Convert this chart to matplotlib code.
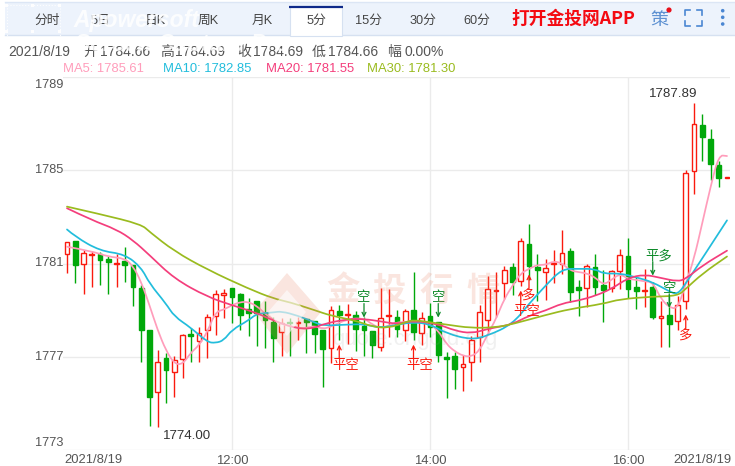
import matplotlib
matplotlib.use("Agg")
import matplotlib.pyplot as plt
from matplotlib.patches import Rectangle, Polygon, Circle, PathPatch
from matplotlib.path import Path

FONT = ['Liberation Sans', 'Noto Sans CJK SC', 'DejaVu Sans']
CJK = ['Noto Sans CJK SC', 'DejaVu Sans']
plt.rcParams['font.family'] = FONT

# ---- candles (open, close, high, low) ----
opens = [1781.39,1781.96,1781.00,1781.37,1781.40,1781.20,1780.97,1781.10,1780.92,1779.97,1778.16,1775.50,1776.93,1776.34,1776.91,1777.98,1777.67,1778.15,1778.75,1779.66,
         1779.93,1779.71,1779.05,1779.41,1778.86,1778.50,1778.07,1778.49,1778.46,1778.63,1778.52,1778.15,1777.37,1778.98,1778.77,1778.80,1778.33,1778.12,1777.43,1778.75,
         1778.72,1778.13,1779.02,1778.00,1778.76,1778.48,1776.97,1777.04,1776.54,1776.76,1777.86,1778.58,1779.84,1780.17,1780.87,1780.23,1781.85,1780.84,1780.64,1781.00,
         1780.99,1781.52,1780.01,1779.94,1780.87,1780.08,1779.97,1780.67,1781.34,1780.01,1779.84,1780.01,1778.68,1778.81,1778.55,1779.38,1784.96,1786.96,1786.33,1785.21,1784.66]
closes = [1781.93,1780.94,1781.43,1781.40,1781.17,1781.07,1781.00,1780.94,1780.00,1778.16,1775.27,1776.77,1776.43,1776.86,1777.93,1777.90,1778.00,1778.70,1779.70,1779.72,
          1779.58,1778.78,1778.86,1778.88,1778.58,1777.79,1778.45,1778.46,1778.51,1778.48,1777.99,1777.32,1779.00,1778.78,1778.82,1778.18,1778.13,1777.52,1778.66,1778.80,
          1778.18,1778.96,1778.05,1778.66,1778.26,1777.09,1776.90,1776.47,1776.68,1777.72,1778.91,1779.91,1779.87,1780.70,1780.21,1781.96,1780.91,1780.73,1780.80,1781.03,
          1781.46,1779.78,1779.88,1780.90,1779.98,1779.88,1780.66,1781.37,1779.90,1779.84,1779.87,1778.69,1778.76,1778.42,1779.22,1784.90,1787.00,1786.41,1785.25,1784.67,1784.69]
highs = [1781.93,1781.96,1781.60,1781.53,1781.50,1781.33,1781.40,1781.72,1780.92,1780.08,1778.16,1777.27,1777.16,1777.04,1777.98,1778.25,1778.29,1778.84,1779.87,1779.92,
         1779.93,1779.75,1779.54,1779.41,1779.37,1778.70,1778.66,1778.66,1778.72,1778.63,1778.52,1778.15,1779.18,1779.24,1779.27,1778.98,1778.69,1778.12,1779.95,1779.91,
         1779.00,1779.05,1780.62,1778.92,1779.32,1778.48,1777.19,1777.22,1777.07,1777.90,1779.22,1780.46,1780.63,1780.91,1781.03,1782.10,1782.68,1781.42,1781.20,1781.56,
         1782.42,1781.67,1780.30,1780.99,1781.42,1780.70,1780.70,1781.63,1782.10,1780.41,1780.77,1780.20,1779.41,1779.62,1779.62,1785.00,1787.89,1787.41,1786.75,1785.39,1784.72]
lows = [1780.60,1780.17,1779.68,1779.98,1780.07,1779.68,1779.98,1780.20,1779.16,1776.77,1774.02,1774.00,1775.03,1775.27,1776.10,1776.77,1776.77,1776.96,1777.95,1778.65,
        1778.46,1778.16,1777.88,1777.44,1777.36,1776.77,1777.04,1777.04,1777.72,1777.14,1777.14,1775.72,1776.74,1777.72,1777.55,1777.23,1777.04,1776.94,1777.26,1777.83,
        1777.83,1777.69,1777.73,1777.52,1777.83,1776.78,1775.25,1775.61,1775.54,1775.94,1776.76,1778.05,1778.72,1779.48,1779.67,1780.05,1780.30,1779.40,1779.45,1780.15,
        1780.55,1779.34,1778.73,1779.15,1779.67,1778.48,1779.77,1779.91,1779.52,1779.05,1779.15,1778.62,1777.43,1777.43,1778.15,1779.05,1784.00,1785.39,1784.60,1784.28,1784.66]

# ---- moving averages, read at selected candle indices ----
ma5_idx = [0,3,5,7,8,9,10,11,12,13,14,15,16,17,18,19,20,21,22,23,24,25,26,28,29,30,31,32,34,36,37,38,39,40,41,42,44,45,46,47,48,49,50,51,52,53,54,55,56,57,58,59,60,61,62,63,64,65,66,67,68,69,70,71,72,73,74,75,76,77,78,79,80]
ma5_val = [1781.72,1781.53,1781.29,1781.22,1780.89,1780.21,1779.21,1778.13,1777.27,1776.70,1776.67,1777.17,1777.49,1778.06,1778.92,1779.02,1779.21,1779.35,1779.35,1779.18,1778.85,1778.59,1778.40,1778.23,1778.23,1778.33,1778.19,1778.29,1778.62,1778.66,1778.38,1778.23,1778.33,1778.48,1778.48,1778.55,1778.40,1778.12,1777.54,1777.23,1777.04,1777.00,1777.26,1777.97,1778.62,1779.48,1780.05,1780.58,1780.77,1780.94,1780.94,1781.10,1781.01,1780.70,1780.63,1780.58,1780.41,1780.08,1780.30,1780.56,1780.34,1780.30,1780.23,1780.20,1779.48,1779.12,1779.05,1780.13,1781.20,1782.73,1784.28,1785.65,1785.61]
ma10_idx = [0,1,4,7,9,10,12,13,15,17,18,19,20,22,23,25,26,28,30,31,34,36,38,40,42,44,46,49,51,54,56,58,60,62,64,65,67,69,71,73,74,75,80]
ma10_val = [1782.46,1782.15,1781.54,1781.40,1780.83,1780.14,1779.28,1778.73,1778.25,1777.63,1777.59,1777.70,1778.16,1778.56,1778.85,1778.90,1778.95,1778.76,1778.48,1778.33,1778.38,1778.40,1778.23,1778.38,1778.48,1778.40,1778.00,1777.73,1777.90,1778.40,1779.27,1780.05,1780.77,1780.77,1780.77,1780.56,1780.58,1780.41,1780.20,1779.80,1779.67,1780.13,1782.85]
ma20_idx = [0,3,6,8,10,13,17,20,23,25,28,30,31,34,36,38,40,42,45,47,49,51,52,54,56,58,60,62,64,66,68,70,72,74,75,77,80]
ma20_val = [1783.37,1782.86,1782.46,1782.00,1781.36,1780.35,1779.57,1779.21,1778.88,1778.55,1778.19,1778.23,1778.40,1778.62,1778.62,1778.52,1778.40,1778.55,1778.40,1778.12,1778.00,1778.19,1778.26,1778.40,1778.76,1778.98,1779.29,1779.41,1779.61,1779.91,1780.38,1780.53,1780.38,1780.23,1780.34,1780.91,1781.55]
ma30_idx = [0,4,9,10,13,17,22,25,27,30,32,35,37,39,41,42,44,46,49,52,54,58,61,65,67,71,74,75,77,80]
ma30_val = [1783.44,1783.12,1782.68,1782.36,1781.53,1780.74,1779.92,1779.50,1779.34,1779.00,1778.76,1778.55,1778.29,1778.23,1778.48,1778.58,1778.48,1778.38,1778.23,1778.26,1778.40,1778.79,1779.05,1779.27,1779.47,1779.58,1779.61,1779.91,1780.56,1781.30]

# ---- trade signals ----
sig_idx = [33,42,55,56,75,36,45,71,73]
sig_price = [1777.52,1777.52,1779.84,1780.53,1778.81,1778.68,1778.68,1780.48,1779.10]
sig_text = ['平空','平空','平空','多','多','空','空','平多','空']
sig_long = [True,True,True,True,True,False,False,False,False]

tabs = ['分时','5日','日K','周K','月K','5分','15分','30分','60分']
info_items = ['2021/8/19','开','1784.66','高','1784.69','收','1784.69','低','1784.66','幅','0.00%']
ma_labels = ['MA5: 1785.61','MA10: 1782.85','MA20: 1781.55','MA30: 1781.30']
y_ticks = [1773,1777,1781,1785,1789]
x_tick_idx = [20,44,68]
x_tick_labels = ['12:00','14:00','16:00']
date_labels = ['2021/8/19','2021/8/19']

C_RED, C_GREEN = '#FA1A0E', '#00A80A'
C_MA = ['#FF9DBB', '#22BDDC', '#F43E7C', '#9ABB1F']
C_TXT = '#555555'
PX = 0.72  # points per pixel

fig = plt.figure(figsize=(7.35, 4.66), dpi=100, facecolor='white')
W, H = 735, 466
L, R, T, B = 63, 730, 77, 450
ax = fig.add_axes([L/W, 1-B/H, (R-L)/W, (B-T)/H], zorder=2)
ax.patch.set_alpha(0)
ax.set_xlim((L-67)/8.25, (R-67)/8.25)
ax.set_ylim(1773, 1789)
for s in ax.spines.values():
    s.set_visible(False)
ax.set_axisbelow(True)
ax.grid(True, color='#EBEBEB', lw=1.0)
ax.set_yticks(y_ticks)
ax.set_xticks(x_tick_idx)
ax.set_xticklabels(x_tick_labels, fontsize=9.4, color=C_TXT)
ax.set_yticklabels([])
ax.tick_params(axis='both', length=0, labelcolor=C_TXT)
ax.tick_params(axis='x', pad=3.5)
ytrans = ax.get_yaxis_transform()
for v in y_ticks:
    off = -8 if v == 1789 else 7 if v == 1773 else 0
    ax.annotate(str(v), (0, v), xycoords=ytrans, xytext=(0, off*PX), textcoords='offset points',
                ha='right', va='center', fontsize=9.2, color=C_TXT, annotation_clip=False)

# candles
for i, (o, c, h, l) in enumerate(zip(opens, closes, highs, lows)):
    up = c >= o
    col = C_RED if up else C_GREEN
    ax.vlines(i, l, h, color=col, lw=1.0, zorder=3)
    ax.bar(i, abs(c-o), bottom=min(o, c), width=0.6,
           facecolor='white' if up else col, edgecolor=col, lw=1.0, zorder=4)

# moving averages, drawn as smooth curves through their knots
for (ix, vals), col in zip([(ma5_idx, ma5_val), (ma10_idx, ma10_val), (ma20_idx, ma20_val), (ma30_idx, ma30_val)], C_MA):
    verts = [(ix[0], vals[0])]
    codes = [Path.MOVETO]
    for k in range(1, len(ix)-1):
        verts += [(ix[k], vals[k]), ((ix[k]+ix[k+1])/2, (vals[k]+vals[k+1])/2)]
        codes += [Path.CURVE3, Path.CURVE3]
    verts.append((ix[-1], vals[-1]))
    codes.append(Path.LINETO)
    ax.add_patch(PathPatch(Path(verts, codes), fc='none', ec=col, lw=1.25, zorder=5, capstyle='round'))

# extreme labels
imax = highs.index(max(highs))
imin = lows.index(min(lows))
ax.annotate(f'{highs[imax]:.2f}', (imax, highs[imax]), xytext=(-21*PX, 9*PX), textcoords='offset points',
            ha='center', va='center', fontsize=9.6, color='#333333', zorder=6)
ax.annotate(f'{lows[imin]:.2f}', (imin, lows[imin]), xytext=(29*PX, -9*PX), textcoords='offset points',
            ha='center', va='center', fontsize=9.6, color='#333333', zorder=6)

# signals
for i, p, t, is_long in zip(sig_idx, sig_price, sig_text, sig_long):
    col = C_RED if is_long else '#0E8A2A'
    sgn = -1 if is_long else 1
    ax.annotate('', xy=(i, p), xytext=(0, sgn*14*PX), textcoords='offset points', zorder=7,
                arrowprops=dict(arrowstyle='->', color=col, lw=0.9, shrinkA=0, shrinkB=0, mutation_scale=7))
    dx = 6 if len(t) == 2 else 0
    ax.annotate(t, (i, p), xytext=(dx*PX, sgn*20*PX), textcoords='offset points', ha='center', va='center',
                fontsize=9.6, color=col, family=CJK, zorder=7)

# ---- pixel overlay for page furniture ----
ov = fig.add_axes([0, 0, 1, 1], zorder=3)
ov.set_xlim(0, W)
ov.set_ylim(H, 0)
ov.axis('off')
ov.patch.set_alpha(0)

ov.add_patch(Rectangle((5, 2), 730, 33, fc='#EDF3FC', ec='none', zorder=1))
ov.plot([5, 735], [35, 35], color='#D6E1F1', lw=1, zorder=1)
ov.plot([5, 735], [2, 2], color='#DCE6F5', lw=1, zorder=1)
ov.add_patch(Rectangle((290, 6), 52, 30, fc='white', ec='#D6E1F1', lw=0.8, zorder=2))
ov.plot([289, 343], [6.5, 6.5], color='#0F2A8A', lw=1.6, zorder=3, solid_capstyle='butt')

tab_x = [47, 100, 155, 208, 262, 316, 369, 423, 477]
for x, t in zip(tab_x, tabs):
    ov.text(x, 21, t, ha='center', va='center', fontsize=9.2, color='#444444', family=FONT, zorder=3)
ov.text(573.5, 18.5, '打开金投网APP', ha='center', va='center', fontsize=12.8, color='#F40A12', weight='bold', family=CJK, zorder=3)
ov.text(659, 20, '策', ha='center', va='center', fontsize=13, color='#5F92D2', family=CJK, zorder=3)
ov.add_patch(Circle((669, 10), 2.6, fc='#E8101A', ec='none', zorder=4))
for xs, ys in [([685, 685, 690], [15, 10, 10]), ([697, 702, 702], [10, 10, 15]),
               ([685, 685, 690], [21, 26, 26]), ([697, 702, 702], [26, 26, 21])]:
    ov.plot(xs, ys, color='#4A86D2', lw=1.2, zorder=3)
for y in (10.7, 17.3, 24):
    ov.add_patch(Circle((722.7, y), 1.8, fc='#4A86D2', ec='none', zorder=3))

info_x = [8, 83, 100, 160, 175, 237, 253, 312, 328, 387, 405]
for x, t in zip(info_x, info_items):
    ov.text(x, 52, t, ha='left', va='center', fontsize=10, color=C_TXT, family=FONT, zorder=3)
for x, t, c in zip([63, 163, 266, 367], ma_labels, C_MA):
    ov.text(x, 69, t, ha='left', va='center', fontsize=9.4, color=c, zorder=3)
ov.text(93, 460, date_labels[0], ha='center', va='center', fontsize=9.4, color=C_TXT, zorder=3)
ov.text(702, 460, date_labels[1], ha='center', va='center', fontsize=9.4, color=C_TXT, zorder=3)

# chart watermark
wm = '#E8805F'
ov.add_patch(Polygon([(287, 273), (321, 312), (287, 354), (254, 312)], closed=True, fc=wm, alpha=0.2, ec='none', zorder=6))
ov.add_patch(Polygon([(287, 290), (306, 312), (287, 336), (268, 312)], closed=True, fc='white', alpha=0.6, ec='none', zorder=6))
for x, ch in zip([343, 389, 436, 483], '金投行情'):
    ov.text(x, 291, ch, ha='center', va='center', fontsize=24, color=wm, alpha=0.2, weight='bold', family=CJK, zorder=6)
ov.text(415, 340, 'quote.cngold.org', ha='center', va='center', fontsize=16, color='#999999', alpha=0.14, zorder=6)

# screen-capture watermark
ov.text(73, 20, 'Apowersoft', ha='left', va='center', fontsize=16.5, style='italic', weight='bold', color='white', alpha=0.85, family='Liberation Sans', zorder=8)
ov.text(75, 44, 'Screen Capture Pro', ha='left', va='center', fontsize=16.5, style='italic', weight='bold', color='white', alpha=0.85, family='Liberation Sans', zorder=8)
ov.add_patch(Rectangle((7, 5), 53, 52, fc='none', ec='white', lw=0.8, ls=':', alpha=0.9, zorder=8))
for hx in (7, 33, 60):
    for hy in (5, 31, 57):
        ov.add_patch(Rectangle((hx-1.5, hy-1.5), 3, 3, fc='white', ec='none', alpha=0.9, zorder=8))

fig.savefig('out.png', dpi=100, facecolor='white')
